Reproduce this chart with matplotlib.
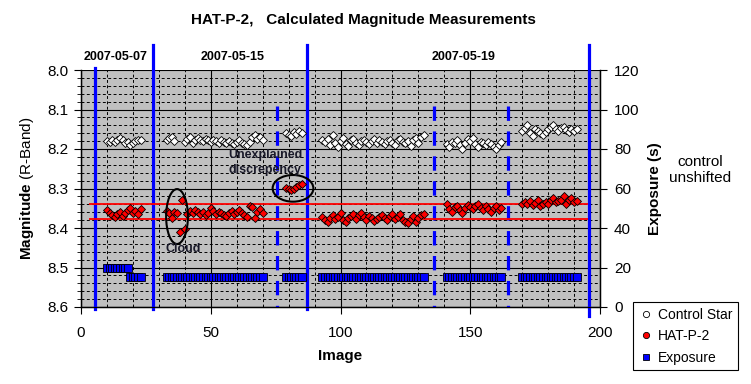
import numpy as np
import matplotlib.pyplot as plt
from matplotlib.patches import Ellipse
from matplotlib.lines import Line2D

plt.switch_backend('Agg')
plt.rcParams['font.family'] = ['Liberation Sans', 'DejaVu Sans']
plt.rcParams['mathtext.fontset'] = 'custom'
plt.rcParams['mathtext.rm'] = 'Liberation Sans'
plt.rcParams['mathtext.bf'] = 'Liberation Sans:bold'

# control star, one list per run of images (first image number, values)
ctrl_starts = [10, 33, 40, 79, 93, 141, 170]
ctrl_values = [
    [8.180, 8.183, 8.178, 8.182, 8.176, 8.172, 8.178, 8.186, 8.183, 8.190, 8.186, 8.180, 8.176, 8.178],
    [8.178, 8.172, 8.170, 8.180],
    [8.182, 8.175, 8.170, 8.185, 8.178, 8.172, 8.176, 8.180, 8.175, 8.178, 8.183, 8.176, 8.180, 8.185,
     8.178, 8.182, 8.186, 8.180, 8.185, 8.188, 8.182, 8.178, 8.185, 8.188, 8.190, 8.182, 8.170, 8.165,
     8.175, 8.170, 8.178],
    [8.160, 8.165, 8.168, 8.158, 8.162, 8.155, 8.160],
    [8.178, 8.182, 8.175, 8.190, 8.165, 8.185, 8.195, 8.180, 8.172, 8.188, 8.192, 8.178, 8.175, 8.185,
     8.190, 8.180, 8.176, 8.182, 8.188, 8.180, 8.175, 8.185, 8.178, 8.182, 8.188, 8.180, 8.176, 8.185,
     8.190, 8.178, 8.175, 8.182, 8.186, 8.180, 8.192, 8.178, 8.172, 8.185, 8.170, 8.165],
    [8.188, 8.195, 8.182, 8.185, 8.178, 8.190, 8.200, 8.185, 8.175, 8.180, 8.172, 8.188, 8.195, 8.182,
     8.185, 8.190, 8.182, 8.188, 8.195, 8.200, 8.190, 8.182],
    [8.155, 8.148, 8.140, 8.160, 8.168, 8.150, 8.155, 8.160, 8.165, 8.158, 8.150, 8.145, 8.140, 8.150,
     8.155, 8.148, 8.145, 8.152, 8.158, 8.150, 8.155, 8.150],
]

# HAT-P-2
hat_starts = [10, 33, 79, 93, 141, 170]
hat_values = [
    [8.355, 8.362, 8.368, 8.372, 8.365, 8.360, 8.370, 8.362, 8.355, 8.350, 8.362, 8.358, 8.365, 8.352],
    [8.358, 8.362, 8.375, 8.360, 8.362, 8.410, 8.328, 8.402,
     8.365, 8.358, 8.362, 8.355, 8.360, 8.365, 8.360, 8.368, 8.362, 8.350, 8.358, 8.365, 8.360, 8.362,
     8.368, 8.370, 8.362, 8.358, 8.365, 8.360, 8.355, 8.362, 8.368, 8.372, 8.345, 8.348, 8.375, 8.360,
     8.352, 8.362],
    [8.298, 8.302, 8.305, 8.300, 8.295, 8.290, 8.288],
    [8.372, 8.380, 8.385, 8.375, 8.368, 8.378, 8.372, 8.362, 8.380, 8.385, 8.375, 8.370, 8.365, 8.378,
     8.368, 8.362, 8.372, 8.380, 8.370, 8.375, 8.382, 8.378, 8.372, 8.368, 8.375, 8.380, 8.370, 8.365,
     8.378, 8.372, 8.365, 8.380, 8.385, 8.388, 8.378, 8.370, 8.385, 8.375, 8.368, 8.365],
    [8.340, 8.352, 8.360, 8.348, 8.345, 8.355, 8.362, 8.350, 8.342, 8.348, 8.352, 8.345, 8.338, 8.350,
     8.355, 8.345, 8.352, 8.360, 8.350, 8.345, 8.355, 8.350],
    [8.340, 8.335, 8.338, 8.332, 8.342, 8.336, 8.330, 8.345, 8.338, 8.335, 8.340, 8.330, 8.325, 8.335,
     8.332, 8.328, 8.320, 8.338, 8.330, 8.325, 8.335, 8.332],
]

# exposure runs: first image, last image, seconds
exp_first = [10, 19, 33, 79, 93, 141, 170]
exp_last = [18, 23, 70, 85, 132, 162, 191]
exp_secs = [20, 15, 15, 15, 15, 15, 15]

# night boundaries (solid) and breaks (dashed), reference band
night_lines = [5.4, 27.7, 87.0, 195.8]
break_lines = [75.4, 136.0, 164.6]
band_levels = [8.339, 8.377]
band_x = [3, 195.5]
dates = ['2007-05-07', '2007-05-15', '2007-05-19']
date_x = [13.3, 58.4, 147.3]


def build(starts, values):
    xs, ys = [], []
    for s, v in zip(starts, values):
        xs.extend(s + np.arange(len(v)))
        ys.extend(v)
    return np.array(xs), np.array(ys)


ctrl_x, ctrl_y = build(ctrl_starts, ctrl_values)
hat_x, hat_y = build(hat_starts, hat_values)
exp_x, exp_y = [], []
for a, b, s in zip(exp_first, exp_last, exp_secs):
    for i in range(a, b + 1):
        exp_x.append(i)
        exp_y.append(s)

fig = plt.figure(figsize=(7.51, 3.84), dpi=100)
ax = fig.add_axes([81 / 751, 1 - 307 / 384, 519 / 751, 237 / 384])
ax.set_facecolor('#c0c0c0')

ax.set_xlim(0, 200)
ax.set_ylim(8.6, 8.0)
ax.set_xticks([0, 50, 100, 150, 200])
ax.set_xticks(np.arange(0, 201, 10), minor=True)
ax.set_yticks([8.0, 8.1, 8.2, 8.3, 8.4, 8.5, 8.6])
ax.set_yticks(np.arange(8.0, 8.601, 0.02), minor=True)
ax.yaxis.set_major_formatter(plt.FormatStrFormatter('%.1f'))

# grid: solid major, dashed minor
ax.set_axisbelow(True)
ax.grid(True, which='major', color='black', linewidth=0.8)
ax.grid(True, which='minor', color='black', linewidth=0.7, linestyle=(0, (3, 2.5)))
ax.tick_params(which='major', direction='out', length=5, labelsize=11, pad=4)
ax.tick_params(axis='x', which='major', pad=9)
ax.tick_params(which='minor', direction='out', length=3)
ax.tick_params(axis='x', which='minor', length=0)
for sp in ax.spines.values():
    sp.set_linewidth(1)
ax.spines['top'].set_visible(False)

# blue boundary lines reaching up into the date strip
for i, x in enumerate(night_lines):
    top = 1.008 if i == 0 else 1.105
    bot = -0.04 if i == len(night_lines) - 1 else -0.01
    ax.axvline(x, bot, top, color='#0000ff', linewidth=2.3, clip_on=False, zorder=3)
# dashed breaks drawn top-down so the pattern starts with a full dash at the top
for x in break_lines:
    ax.axvline(x, 0.848, 0, color='#0000ff', linewidth=2.3, linestyle=(0, (4.5, 3.3)), zorder=3)

ax.hlines(band_levels, band_x[0], band_x[1], color='#ff0000', linewidth=1.3, zorder=3)

ax.plot(ctrl_x, ctrl_y, linestyle='none', marker='D', markersize=3.9, markerfacecolor='white',
        markeredgecolor='black', markeredgewidth=0.6, zorder=4)
ax.plot(hat_x, hat_y, linestyle='none', marker='D', markersize=3.9, markerfacecolor='#ff0000',
        markeredgecolor='black', markeredgewidth=0.6, zorder=4)

for d, x in zip(dates, date_x):
    ax.text(x, 1.055, d, transform=ax.get_xaxis_transform(), ha='center', va='center',
            fontsize=9, fontweight='bold')

# annotations
ax.add_patch(Ellipse((37, 8.371), 8.4, 0.139, fill=False, edgecolor='black', linewidth=1.5, zorder=5))
ax.add_patch(Ellipse((81.7, 8.2996), 15.7, 0.0675, fill=False, edgecolor='black', linewidth=1.5, zorder=5))
ax.text(39.3, 8.453, 'Cloud', ha='center', va='center', fontsize=9, fontweight='bold', color='#1a1a2a', zorder=5)
ax.text(70.9, 8.235, 'Unexplained\ndiscrepency', ha='center', va='center', fontsize=9,
        fontweight='bold', color='#1a1a2a', linespacing=1.35, zorder=5)

ax.set_xlabel('Image', fontsize=11, fontweight='bold', labelpad=6)
ax.set_ylabel(r'$\mathbf{Magnitude}$ (R-Band)', fontsize=11, labelpad=8)

# exposure on the right axis
ax2 = ax.twinx()
ax2.set_ylim(0, 120)
ax2.set_yticks(np.arange(0, 121, 20))
ax2.tick_params(direction='out', length=5, labelsize=11, pad=5)
ax2.spines['top'].set_visible(False)
ax2.plot(exp_x, exp_y, linestyle='none', marker='s', markersize=5.3, markerfacecolor='#0000ff',
         markeredgecolor='black', markeredgewidth=0.6)
ax2.set_ylabel('Exposure (s)', fontsize=11, fontweight='bold', labelpad=6)

fig.text(363 / 751, 1 - 20 / 384, 'HAT-P-2,   Calculated Magnitude Measurements', ha='center',
         va='center', fontsize=11, fontweight='bold')
fig.text(700 / 751, 1 - 170 / 384, 'control\nunshifted', ha='center', va='center', fontsize=11,
         linespacing=1.2)

handles = [
    Line2D([], [], linestyle='none', marker='o', markersize=4.5, markerfacecolor='white',
           markeredgecolor='black', markeredgewidth=0.6),
    Line2D([], [], linestyle='none', marker='o', markersize=4.5, markerfacecolor='#ff0000',
           markeredgecolor='black', markeredgewidth=0.6),
    Line2D([], [], linestyle='none', marker='s', markersize=5, markerfacecolor='#0000ff',
           markeredgecolor='black', markeredgewidth=0.6),
]
leg = fig.legend(handles, ['Control Star', 'HAT-P-2', 'Exposure'], loc='upper left',
                 bbox_to_anchor=(633 / 751, 1 - 302 / 384), bbox_transform=fig.transFigure,
                 fontsize=10, frameon=True, fancybox=False, edgecolor='black', framealpha=1,
                 handlelength=1.0, handletextpad=0.4, labelspacing=0.55, borderpad=0.4,
                 borderaxespad=0)
leg.get_frame().set_linewidth(0.8)

plt.savefig('out.png', dpi=100)
